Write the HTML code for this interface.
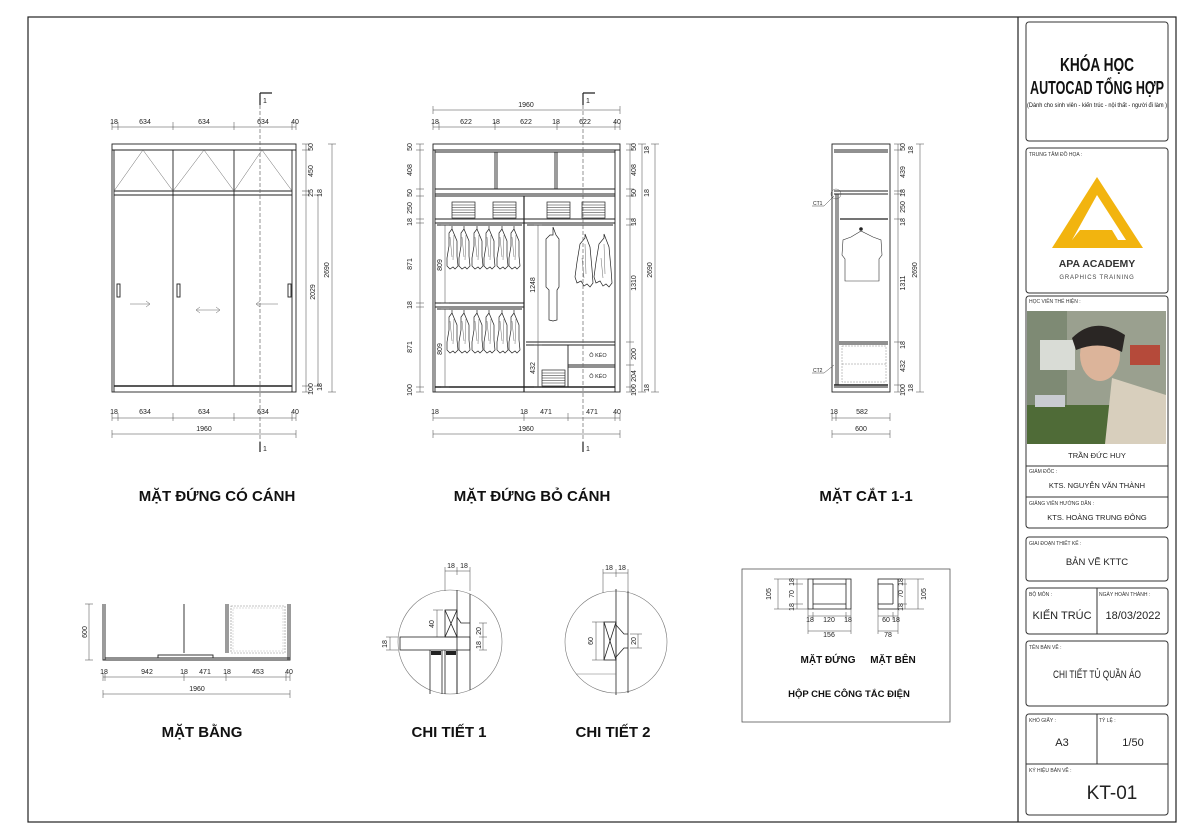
<!DOCTYPE html>
<html><head><meta charset="utf-8"><style>
html,body{margin:0;padding:0;background:#fff;}
svg{display:block;font-family:"Liberation Sans",Arial,sans-serif;}
.d{font-size:7px;fill:#222;}
.t{font-size:15px;font-weight:bold;fill:#111;}
.s{font-size:5px;fill:#333;}
</style></head><body>
<svg width="1186" height="837" viewBox="0 0 1186 837" xmlns="http://www.w3.org/2000/svg">
<defs>
<g id="shirt"><path d="M0,-3 l0,3 M0,0 l-3,4 l0,13 l-2,12 l0,8 l3,3 l3,-2 l2,2 l3,-3 l-1,-10 l0,-15 z" fill="#fff" stroke="#222" stroke-width="0.7"/><path d="M-2,8 l2,20 M2,6 l-1,25" stroke="#444" stroke-width="0.4" fill="none"/></g>
<g id="stack"><rect x="0" y="0" width="23" height="16" fill="#fff" stroke="#222" stroke-width="0.7"/><path d="M0,3h23M0,5.5h23M0,8h23M0,10.5h23M0,13h23" stroke="#222" stroke-width="0.6"/></g>
<g id="coat"><path d="M0,-4 l0,4 l-5,6 l-3,18 l-2,15 l2,6 l4,-2 l3,5 l3,-2 l3,3 l3,-4 l-1,-14 l-2,-22 z" fill="#fff" stroke="#222" stroke-width="0.7"/><path d="M0,6 l1,30 M-3,20 l2,20" stroke="#444" stroke-width="0.4"/></g>
</defs>
<rect width="1186" height="837" fill="#fff"/>
<!-- frame -->
<rect x="28" y="17" width="1148" height="805" fill="none" stroke="#222" stroke-width="1.2"/>
<line x1="1018" y1="17" x2="1018" y2="822" stroke="#222" stroke-width="1.2"/>

<!-- ===== Title block ===== -->
<g fill="none" stroke="#333" stroke-width="1">
<rect x="1026" y="22" width="142" height="119" rx="3"/>
<rect x="1026" y="148" width="142" height="145" rx="3"/>
<rect x="1026" y="296" width="142" height="232" rx="3"/>
<rect x="1026" y="537" width="142" height="44" rx="3"/>
<rect x="1026" y="588" width="142" height="46" rx="3"/>
<rect x="1026" y="641" width="142" height="65" rx="3"/>
<rect x="1026" y="714" width="142" height="101" rx="3"/>
<line x1="1026" y1="466" x2="1168" y2="466"/>
<line x1="1026" y1="497" x2="1168" y2="497"/>
<line x1="1097" y1="588" x2="1097" y2="634"/>
<line x1="1097" y1="714" x2="1097" y2="764"/>
<line x1="1026" y1="764" x2="1168" y2="764"/>
</g>
<text x="1060" y="71" font-size="18" font-weight="bold" textLength="74" lengthAdjust="spacingAndGlyphs" fill="#111">KHÓA HỌC</text>
<text x="1030" y="94" font-size="18" font-weight="bold" textLength="134" lengthAdjust="spacingAndGlyphs" fill="#111">AUTOCAD TỔNG HỢP</text>
<text x="1027" y="107" font-size="6" textLength="140" lengthAdjust="spacingAndGlyphs" fill="#111">(Dành cho sinh viên - kiến trúc - nội thất - người đi làm )</text>
<text x="1029" y="156" class="s">TRUNG TÂM ĐỒ HỌA :</text>
<path d="M1097,177 L1143,248 L1052,248 Z" fill="#f2b40f"/>
<path d="M1097,195 L1126,240 L1072,240 Z" fill="#fff"/>
<path d="M1080,230 L1112,230 L1118,240 L1072,240 Z" fill="#f2b40f"/>
<text x="1097" y="267" text-anchor="middle" font-size="10.5" font-weight="bold" fill="#333">APA ACADEMY</text>
<text x="1097" y="279" text-anchor="middle" font-size="6" letter-spacing="0.8" fill="#444">GRAPHICS TRAINING</text>
<text x="1029" y="303" class="s">HỌC VIÊN THỂ HIỆN :</text>
<!-- photo -->
<rect x="1027" y="311" width="139" height="133" fill="#9aa08f"/>
<rect x="1027" y="311" width="40" height="133" fill="#7e8a74"/>
<rect x="1040" y="340" width="35" height="30" fill="#d9dcd6"/>
<rect x="1130" y="345" width="30" height="20" fill="#b54a3a"/>
<rect x="1027" y="405" width="90" height="39" fill="#4f6b37"/>
<rect x="1035" y="395" width="30" height="12" fill="#c9ccd1"/>
<path d="M1112,378 L1166,395 L1166,444 L1105,444 Z" fill="#d8cfbd"/>
<ellipse cx="1100" cy="355" rx="20" ry="26" fill="#dcb49a"/>
<path d="M1072,338 Q1095,315 1125,335 L1122,352 Q1100,340 1076,350 Z" fill="#2a2624"/>
<text x="1097" y="458" text-anchor="middle" font-size="7.5" fill="#222">TRẦN ĐỨC HUY</text>
<text x="1029" y="473" class="s">GIÁM ĐỐC :</text>
<text x="1097" y="488" text-anchor="middle" font-size="7.5" fill="#222">KTS. NGUYỄN VĂN THÀNH</text>
<text x="1029" y="505" class="s">GIẢNG VIÊN HƯỚNG DẪN :</text>
<text x="1097" y="520" text-anchor="middle" font-size="7.5" fill="#222">KTS. HOÀNG TRUNG ĐÔNG</text>
<text x="1029" y="545" class="s">GIAI ĐOẠN THIẾT KẾ :</text>
<text x="1097" y="565" text-anchor="middle" font-size="9.5" fill="#222">BẢN VẼ KTTC</text>
<text x="1029" y="596" class="s">BỘ MÔN :</text>
<text x="1099" y="596" class="s">NGÀY HOÀN THÀNH :</text>
<text x="1062" y="619" text-anchor="middle" font-size="11" fill="#222">KIẾN TRÚC</text>
<text x="1133" y="619" text-anchor="middle" font-size="11" fill="#222">18/03/2022</text>
<text x="1029" y="649" class="s">TÊN BẢN VẼ :</text>
<text x="1053" y="678" font-size="11" textLength="88" lengthAdjust="spacingAndGlyphs" fill="#222">CHI TIẾT TỦ QUẦN ÁO</text>
<text x="1029" y="722" class="s">KHỔ GIẤY :</text>
<text x="1099" y="722" class="s">TỶ LỆ :</text>
<text x="1062" y="746" text-anchor="middle" font-size="11" fill="#222">A3</text>
<text x="1133" y="746" text-anchor="middle" font-size="11" fill="#222">1/50</text>
<text x="1029" y="772" class="s">KÝ HIỆU BẢN VẼ :</text>
<text x="1112" y="799" text-anchor="middle" font-size="19" fill="#222">KT-01</text>

<!-- ===== Drawing 1 ===== -->
<g stroke="#222" fill="none" stroke-width="0.9">
<rect x="112" y="144" width="184" height="248"/>
<line x1="112" y1="150" x2="296" y2="150"/>
<line x1="114" y1="191" x2="292" y2="191"/>
<line x1="114" y1="195" x2="292" y2="195"/>
<line x1="114" y1="150" x2="114" y2="392"/>
<line x1="292" y1="150" x2="292" y2="392"/>
<line x1="173" y1="150" x2="173" y2="386"/>
<line x1="234" y1="150" x2="234" y2="386"/>
<line x1="114" y1="386" x2="292" y2="386" stroke-width="1.4"/>
<rect x="117" y="284" width="3" height="13"/><rect x="177" y="284" width="3" height="13"/><rect x="288" y="284" width="3" height="13"/>
</g>
<g stroke="#666" stroke-width="0.5" fill="none">
<path d="M114,191 L143,150 L173,191 L204,150 L234,191 L262,150 L292,191"/>
<path d="M130,304 h20 m-4,-3 l4,3 l-4,3"/>
<path d="M196,310 h24 m-20,-3 l-4,3 l4,3 m16,-6 l4,3 l-4,3"/>
<path d="M256,304 h22 m-18,-3 l-4,3 l4,3"/>
</g>
<g stroke="#444" stroke-width="0.5" fill="none">
<path d="M112,127 H296 M112,122 v8 M118,122 v8 M173,122 v8 M234,122 v8 M292,122 v8 M296,122 v8"/>
<path d="M112,418 H296 M112,413 v8 M118,413 v8 M173,413 v8 M234,413 v8 M292,413 v8 M296,413 v8"/>
<path d="M112,434 H296 M112,430 v8 M296,430 v8"/>
<path d="M306,144 V392 M302,144 h8 M302,150 h8 M302,191 h8 M302,195 h8 M302,386 h8 M302,392 h8"/>
<path d="M318,195 V386 M314,195 h8 M314,386 h8"/>
<path d="M332,144 V392 M328,144 h8 M328,392 h8"/>
</g>
<line x1="260" y1="93" x2="260" y2="452" stroke="#666" stroke-width="0.7" stroke-dasharray="4,2"/>
<path d="M260,93 v12 M260,93 h12" stroke="#222" stroke-width="1.2" fill="none"/>
<path d="M260,452 v-10" stroke="#222" stroke-width="1.2"/>
<text x="263" y="103" class="d">1</text><text x="263" y="451" class="d">1</text>
<g class="d" text-anchor="middle">
<text x="114" y="124">18</text><text x="145" y="124">634</text><text x="204" y="124">634</text><text x="263" y="124">634</text><text x="295" y="124">40</text>
<text x="114" y="414">18</text><text x="145" y="414">634</text><text x="204" y="414">634</text><text x="263" y="414">634</text><text x="295" y="414">40</text>
<text x="204" y="431">1960</text>
</g>
<g class="d" text-anchor="middle">
<text transform="translate(313,147) rotate(-90)">50</text>
<text transform="translate(313,171) rotate(-90)">450</text>
<text transform="translate(313,193) rotate(-90)">25</text>
<text transform="translate(322,193) rotate(-90)">18</text>
<text transform="translate(315,292) rotate(-90)">2029</text>
<text transform="translate(329,270) rotate(-90)">2690</text>
<text transform="translate(313,389) rotate(-90)">100</text>
<text transform="translate(322,387) rotate(-90)">18</text>
</g>
<text x="217" y="501" text-anchor="middle" class="t">MẶT ĐỨNG CÓ CÁNH</text>

<!-- ===== Drawing 2 ===== -->
<g stroke="#222" fill="none" stroke-width="0.9">
<rect x="433" y="144" width="187" height="248"/>
<line x1="433" y1="150" x2="620" y2="150"/>
<line x1="435" y1="150" x2="435" y2="392"/>
<line x1="615" y1="150" x2="615" y2="392"/>
<line x1="435" y1="152" x2="615" y2="152"/>
<line x1="495" y1="152" x2="495" y2="189"/><line x1="497" y1="152" x2="497" y2="189"/>
<line x1="555" y1="152" x2="555" y2="189"/><line x1="557" y1="152" x2="557" y2="189"/>
<line x1="435" y1="189" x2="615" y2="189"/><line x1="435" y1="194" x2="615" y2="194"/><line x1="435" y1="196" x2="615" y2="196"/>
<line x1="524" y1="196" x2="524" y2="392" stroke-width="1.2"/>
<line x1="435" y1="219" x2="615" y2="219"/><line x1="435" y1="223" x2="615" y2="223"/>
<line x1="437" y1="225" x2="522" y2="225"/><line x1="527" y1="225" x2="613" y2="225"/>
<line x1="435" y1="303" x2="524" y2="303"/><line x1="435" y1="307" x2="524" y2="307"/>
<line x1="437" y1="309" x2="522" y2="309"/>
<line x1="435" y1="387" x2="615" y2="387" stroke-width="1.4"/>
<line x1="526" y1="342" x2="615" y2="342"/><line x1="526" y1="345" x2="615" y2="345"/>
<line x1="568" y1="345" x2="568" y2="387"/>
<line x1="568" y1="365" x2="615" y2="365"/><line x1="568" y1="367" x2="615" y2="367"/>
</g>
<use href="#stack" x="452" y="202"/><use href="#stack" x="493" y="202"/><use href="#stack" x="547" y="202"/><use href="#stack" x="582" y="202"/>
<use href="#stack" x="542" y="370"/>
<use href="#shirt" x="452" y="229"/><use href="#shirt" x="464" y="229"/><use href="#shirt" x="477" y="229"/><use href="#shirt" x="489" y="229"/><use href="#shirt" x="502" y="229"/><use href="#shirt" x="514" y="229"/>
<use href="#shirt" x="452" y="313"/><use href="#shirt" x="464" y="313"/><use href="#shirt" x="477" y="313"/><use href="#shirt" x="489" y="313"/><use href="#shirt" x="502" y="313"/><use href="#shirt" x="514" y="313"/>
<path d="M553,227 v8 l-3,0 l-4,4 l0,48 l3,3 l0,30 l4,1 l4,-1 l0,-30 l2,-3 l0,-48 l-3,-4 z" fill="#fff" stroke="#222" stroke-width="0.7"/>
<use href="#coat" x="585" y="238"/><use href="#coat" x="604" y="238"/>
<text x="598" y="357" font-size="5.5" text-anchor="middle" fill="#222">Ô KÉO</text>
<text x="598" y="378" font-size="5.5" text-anchor="middle" fill="#222">Ô KÉO</text>
<g stroke="#444" stroke-width="0.5" fill="none">
<path d="M433,110 H620 M433,106 v8 M620,106 v8"/>
<path d="M433,127 H620 M433,122 v8 M439,122 v8 M495,122 v8 M557,122 v8 M615,122 v8 M620,122 v8"/>
<path d="M433,418 H620 M433,413 v8 M524,413 v8 M568,413 v8 M615,413 v8 M620,413 v8"/>
<path d="M433,434 H620 M433,430 v8 M620,430 v8"/>
<path d="M420,144 V392 M416,144 h8 M416,150 h8 M416,189 h8 M416,196 h8 M416,219 h8 M416,223 h8 M416,303 h8 M416,307 h8 M416,387 h8 M416,392 h8"/>
<path d="M445,225 V303 M441,225 h8 M441,303 h8"/>
<path d="M445,309 V387 M441,309 h8 M441,387 h8"/>
<path d="M538,225 V387 M534,225 h8 M534,387 h8"/>
<path d="M538,345 V387 M534,345 h8"/>
<path d="M630,144 V392 M626,144 h8 M626,150 h8 M626,189 h8 M626,196 h8 M626,219 h8 M626,225 h8 M626,342 h8 M626,365 h8 M626,387 h8 M626,392 h8"/>
<path d="M642,144 V392 M638,144 h8 M638,392 h8"/>
<path d="M655,144 V392 M651,144 h8 M651,392 h8"/>
</g>
<line x1="583" y1="93" x2="583" y2="452" stroke="#666" stroke-width="0.7" stroke-dasharray="4,2"/>
<path d="M583,93 v12 M583,93 h12" stroke="#222" stroke-width="1.2" fill="none"/>
<path d="M583,452 v-10" stroke="#222" stroke-width="1.2"/>
<text x="586" y="103" class="d">1</text><text x="586" y="451" class="d">1</text>
<g class="d" text-anchor="middle">
<text x="526" y="107">1960</text>
<text x="435" y="124">18</text><text x="466" y="124">622</text><text x="496" y="124">18</text><text x="526" y="124">622</text><text x="556" y="124">18</text><text x="585" y="124">622</text><text x="617" y="124">40</text>
<text x="435" y="414">18</text><text x="524" y="414">18</text><text x="546" y="414">471</text><text x="592" y="414">471</text><text x="617" y="414">40</text>
<text x="526" y="431">1960</text>
</g>
<g class="d" text-anchor="middle">
<text transform="translate(412,147) rotate(-90)">50</text>
<text transform="translate(412,170) rotate(-90)">408</text>
<text transform="translate(412,193) rotate(-90)">50</text>
<text transform="translate(412,208) rotate(-90)">250</text>
<text transform="translate(412,222) rotate(-90)">18</text>
<text transform="translate(412,264) rotate(-90)">871</text>
<text transform="translate(412,305) rotate(-90)">18</text>
<text transform="translate(412,347) rotate(-90)">871</text>
<text transform="translate(412,390) rotate(-90)">100</text>
<text transform="translate(442,265) rotate(-90)">809</text>
<text transform="translate(442,349) rotate(-90)">809</text>
<text transform="translate(535,285) rotate(-90)">1248</text>
<text transform="translate(535,368) rotate(-90)">432</text>
<text transform="translate(636,147) rotate(-90)">50</text>
<text transform="translate(636,170) rotate(-90)">408</text>
<text transform="translate(636,193) rotate(-90)">50</text>
<text transform="translate(636,222) rotate(-90)">18</text>
<text transform="translate(636,283) rotate(-90)">1310</text>
<text transform="translate(636,354) rotate(-90)">200</text>
<text transform="translate(636,376) rotate(-90)">204</text>
<text transform="translate(636,390) rotate(-90)">100</text>
<text transform="translate(649,150) rotate(-90)">18</text>
<text transform="translate(649,193) rotate(-90)">18</text>
<text transform="translate(652,270) rotate(-90)">2690</text>
<text transform="translate(649,388) rotate(-90)">18</text>
</g>
<text x="532" y="501" text-anchor="middle" class="t">MẶT ĐỨNG BỎ CÁNH</text>

<!-- ===== Drawing 3 ===== -->
<g stroke="#222" fill="none" stroke-width="0.9">
<rect x="832" y="144" width="58" height="248"/>
<line x1="834" y1="150" x2="888" y2="150"/><line x1="834" y1="152" x2="888" y2="152"/>
<line x1="834" y1="191" x2="888" y2="191"/><line x1="834" y1="194" x2="888" y2="194"/>
<line x1="836" y1="194" x2="836" y2="385"/><line x1="838" y1="194" x2="838" y2="385"/>
<line x1="840" y1="219" x2="888" y2="219" stroke-width="1.3"/>
<line x1="839" y1="342" x2="888" y2="342"/><line x1="839" y1="344" x2="888" y2="344"/>
<line x1="834" y1="385" x2="888" y2="385" stroke-width="1.4"/>
<line x1="834" y1="387" x2="888" y2="387"/>
</g>
<rect x="842" y="346" width="44" height="36" fill="none" stroke="#888" stroke-width="0.5" stroke-dasharray="2,1"/>
<line x1="842" y1="364" x2="886" y2="364" stroke="#888" stroke-width="0.5" stroke-dasharray="2,1"/>
<circle cx="861" cy="229" r="1.8" fill="#222"/>
<path d="M861,231 l-10,6 l-8,3 l-1,15 l3,4 l0,22 l34,0 l0,-22 l3,-4 l-1,-15 l-8,-3 z" fill="#fff" stroke="#333" stroke-width="0.6"/>
<circle cx="836" cy="194" r="5" fill="none" stroke="#444" stroke-width="0.4"/>
<path d="M812,206 h12 l10,-10 M812,373 h12 l10,-8" stroke="#444" stroke-width="0.5" fill="none"/>
<text x="813" y="205" font-size="5" fill="#222">CT1</text><text x="813" y="372" font-size="5" fill="#222">CT2</text>
<g stroke="#444" stroke-width="0.5" fill="none">
<path d="M832,418 H890 M832,413 v8 M836,413 v8 M890,413 v8"/>
<path d="M832,434 H890 M832,430 v8 M890,430 v8"/>
<path d="M898,144 V392 M894,144 h8 M894,150 h8 M894,191 h8 M894,194 h8 M894,219 h8 M894,342 h8 M894,385 h8 M894,392 h8"/>
<path d="M920,144 V392 M916,144 h8 M916,392 h8"/>
</g>
<g class="d" text-anchor="middle">
<text x="834" y="414">18</text><text x="862" y="414">582</text><text x="861" y="431">600</text>
<text transform="translate(905,147) rotate(-90)">50</text>
<text transform="translate(905,172) rotate(-90)">439</text>
<text transform="translate(905,193) rotate(-90)">18</text>
<text transform="translate(905,207) rotate(-90)">250</text>
<text transform="translate(905,222) rotate(-90)">18</text>
<text transform="translate(905,283) rotate(-90)">1311</text>
<text transform="translate(905,345) rotate(-90)">18</text>
<text transform="translate(905,366) rotate(-90)">432</text>
<text transform="translate(905,390) rotate(-90)">100</text>
<text transform="translate(913,150) rotate(-90)">18</text>
<text transform="translate(913,388) rotate(-90)">18</text>
<text transform="translate(917,270) rotate(-90)">2690</text>
</g>
<text x="866" y="501" text-anchor="middle" class="t">MẶT CẮT 1-1</text>

<!-- ===== Mat bang ===== -->
<g stroke="#222" fill="none" stroke-width="0.9">
<path d="M103,604 V660 H290 V604"/>
<line x1="105" y1="604" x2="105" y2="660"/>
<line x1="184" y1="604" x2="184" y2="653"/>
<line x1="226" y1="604" x2="226" y2="653"/><line x1="228" y1="604" x2="228" y2="653"/>
<line x1="105" y1="658" x2="290" y2="658"/>
<rect x="158" y="655" width="55" height="3"/>
<line x1="288" y1="604" x2="288" y2="660"/>
</g>
<rect x="231" y="606" width="54" height="47" fill="none" stroke="#888" stroke-width="0.6" stroke-dasharray="2,1"/>
<rect x="233" y="608" width="50" height="43" fill="none" stroke="#aaa" stroke-width="0.4" stroke-dasharray="2,1"/>
<g stroke="#444" stroke-width="0.5" fill="none">
<path d="M103,677 H290 M103,673 v8 M105,673 v8 M184,673 v8 M226,673 v8 M286,673 v8 M290,673 v8"/>
<path d="M103,694 H290 M103,690 v8 M290,690 v8"/>
<path d="M89,604 V660 M85,604 h8 M85,660 h8"/>
</g>
<g class="d" text-anchor="middle">
<text x="104" y="674">18</text><text x="147" y="674">942</text><text x="184" y="674">18</text><text x="205" y="674">471</text><text x="227" y="674">18</text><text x="258" y="674">453</text><text x="289" y="674">40</text>
<text x="197" y="691">1960</text>
<text transform="translate(87,632) rotate(-90)">600</text>
</g>
<text x="202" y="737" text-anchor="middle" class="t">MẶT BẰNG</text>

<!-- ===== Chi tiet 1 ===== -->
<circle cx="450" cy="642" r="52" fill="none" stroke="#777" stroke-width="0.6"/>
<g stroke="#222" stroke-width="0.8" fill="none">
<line x1="457" y1="590" x2="457" y2="694"/>
<line x1="470" y1="594" x2="470" y2="690"/>
<rect x="445" y="610" width="12" height="27"/>
<path d="M445,610 L457,637 M457,610 L445,637"/>
<path d="M457,617 l4,6 h9"/>
<rect x="400" y="637" width="70" height="13"/>
<line x1="430" y1="650" x2="430" y2="694"/><line x1="442" y1="650" x2="442" y2="694"/>
<line x1="445" y1="650" x2="445" y2="694"/><line x1="457" y1="650" x2="457" y2="694"/>
</g>
<rect x="431" y="651" width="10" height="4" fill="#222"/><rect x="446" y="651" width="10" height="4" fill="#222"/>
<g stroke="#444" stroke-width="0.5" fill="none">
<path d="M445,571 H470 M445,567 v24 M457,567 v8 M470,567 v24"/>
<path d="M437,610 V637 M433,610 h10 M433,637 h10"/>
<path d="M483,623 V650 M479,623 h8 M479,637 h8 M479,650 h8"/>
<path d="M390,637 V650 M386,637 h12 M386,650 h12"/>
</g>
<g class="d" text-anchor="middle">
<text x="451" y="568">18</text><text x="464" y="568">18</text>
<text transform="translate(434,624) rotate(-90)">40</text>
<text transform="translate(481,631) rotate(-90)">20</text>
<text transform="translate(481,645) rotate(-90)">18</text>
<text transform="translate(387,644) rotate(-90)">18</text>
</g>
<text x="449" y="737" text-anchor="middle" class="t">CHI TIẾT 1</text>

<!-- ===== Chi tiet 2 ===== -->
<circle cx="616" cy="642" r="51" fill="none" stroke="#777" stroke-width="0.6"/>
<g stroke="#222" stroke-width="0.8" fill="none">
<line x1="616" y1="589" x2="616" y2="695"/>
<line x1="628" y1="591" x2="628" y2="693"/>
<rect x="604" y="622" width="12" height="38"/>
<path d="M604,622 L616,660 M616,622 L604,660"/>
<path d="M616,625 l8,9 h4 M616,657 l8,-9 h4"/>
<path d="M576,674 h40" stroke="#777" stroke-width="0.5"/>
</g>
<g stroke="#444" stroke-width="0.5" fill="none">
<path d="M603,573 H628 M603,569 v24 M616,569 v8 M628,569 v24"/>
<path d="M596,622 V660 M592,622 h12 M592,660 h12"/>
<path d="M638,634 V648 M630,634 h12 M630,648 h12"/>
</g>
<g class="d" text-anchor="middle">
<text x="609" y="570">18</text><text x="622" y="570">18</text>
<text transform="translate(593,641) rotate(-90)">60</text>
<text transform="translate(636,641) rotate(-90)">20</text>
</g>
<text x="613" y="737" text-anchor="middle" class="t">CHI TIẾT 2</text>

<!-- ===== Hop che cong tac dien ===== -->
<rect x="742" y="569" width="208" height="153" fill="none" stroke="#555" stroke-width="0.8"/>
<g stroke="#222" stroke-width="0.8" fill="none">
<rect x="808" y="579" width="43" height="30"/>
<line x1="813" y1="579" x2="813" y2="609"/><line x1="846" y1="579" x2="846" y2="609"/>
<line x1="813" y1="584" x2="846" y2="584"/><line x1="813" y1="604" x2="846" y2="604"/>
<rect x="878" y="579" width="20" height="30"/>
<line x1="893" y1="584" x2="893" y2="604"/><line x1="878" y1="584" x2="893" y2="584"/><line x1="878" y1="604" x2="893" y2="604"/>
</g>
<g stroke="#444" stroke-width="0.5" fill="none">
<path d="M778,579 V609 M774,579 h34 M774,609 h34"/>
<path d="M797,579 V609 M793,584 h10 M793,604 h10"/>
<path d="M808,616 H851 M813,612 v8 M846,612 v8 M808,609 v25 M851,609 v25"/>
<path d="M808,631 H851"/>
<path d="M878,616 H898 M893,612 v8 M878,609 v25 M898,609 v25"/>
<path d="M878,631 H898"/>
<path d="M905,579 V609 M901,584 h6 M901,604 h6"/>
<path d="M918,579 V609 M898,579 h26 M898,609 h26"/>
</g>
<g class="d" text-anchor="middle" font-size="6">
<text transform="translate(771,594) rotate(-90)">105</text>
<text transform="translate(794,582) rotate(-90)">18</text>
<text transform="translate(794,594) rotate(-90)">70</text>
<text transform="translate(794,607) rotate(-90)">18</text>
<text x="810" y="622">18</text><text x="829" y="622">120</text><text x="848" y="622">18</text>
<text x="829" y="637">156</text>
<text x="886" y="622">60</text><text x="896" y="622">18</text>
<text x="888" y="637">78</text>
<text transform="translate(903,582) rotate(-90)">18</text>
<text transform="translate(903,594) rotate(-90)">70</text>
<text transform="translate(903,607) rotate(-90)">18</text>
<text transform="translate(926,594) rotate(-90)">105</text>
</g>
<text x="828" y="663" text-anchor="middle" font-size="10" font-weight="bold" fill="#111">MẶT ĐỨNG</text>
<text x="893" y="663" text-anchor="middle" font-size="10" font-weight="bold" fill="#111">MẶT BÊN</text>
<text x="849" y="697" text-anchor="middle" font-size="9.5" font-weight="bold" fill="#111">HỘP CHE CÔNG TẮC ĐIỆN</text>
</svg>
</body></html>
